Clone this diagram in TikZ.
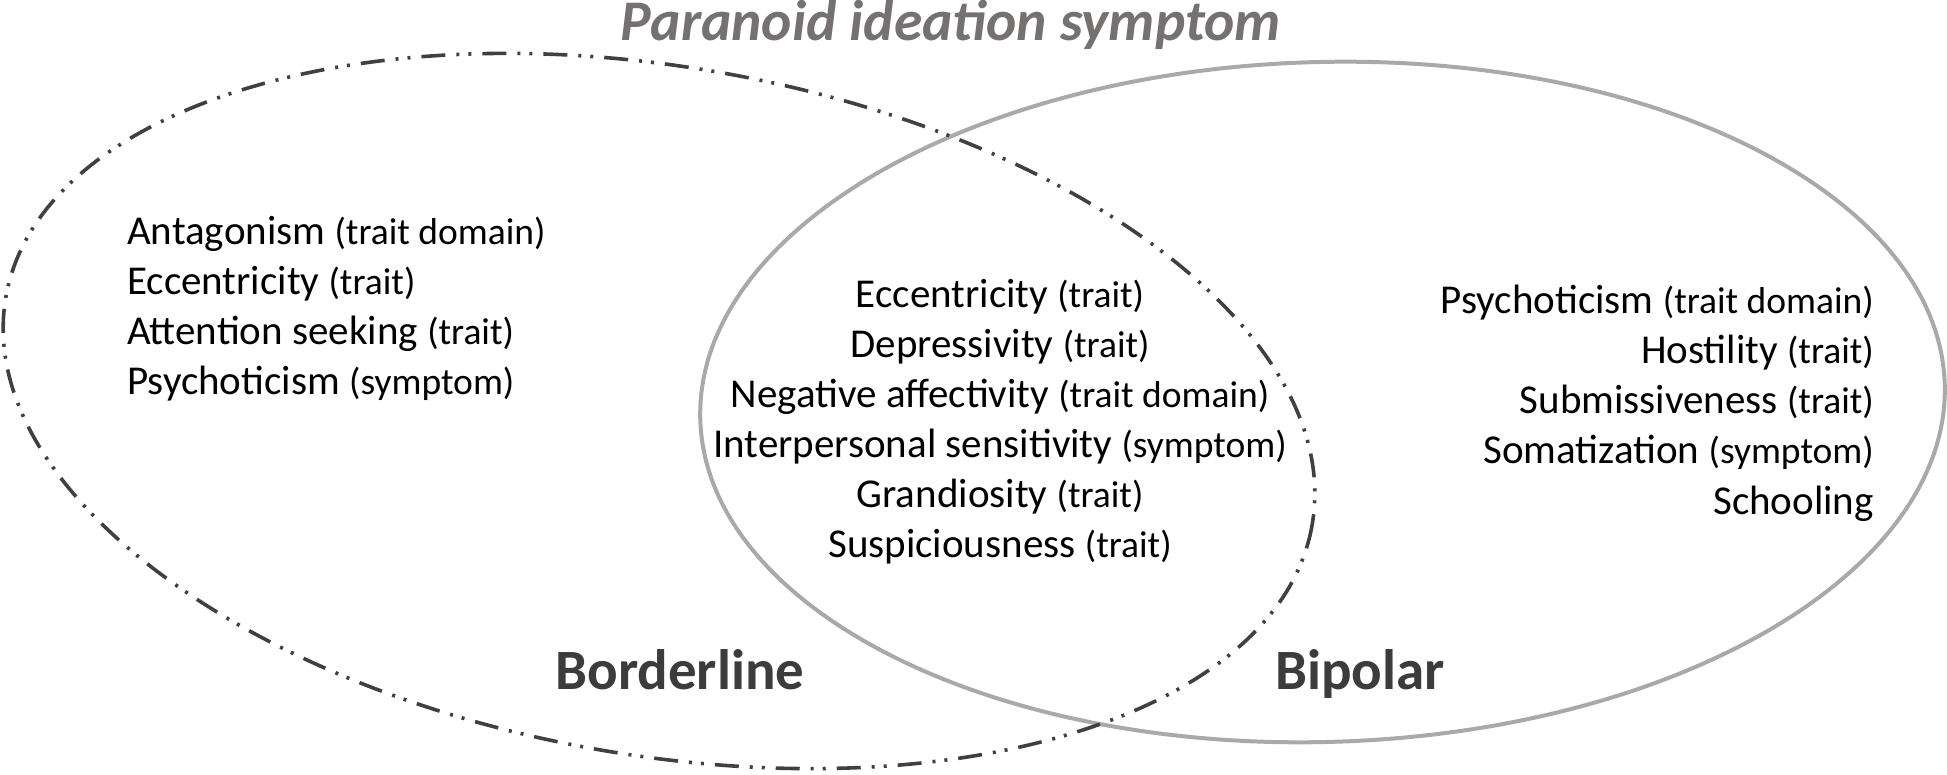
\documentclass[tikz,border=0pt]{standalone}
\usepackage{fontspec}
\setmainfont{Carlito}
\definecolor{titlegray}{RGB}{118,113,113}
\definecolor{labelgray}{RGB}{60,60,60}
\definecolor{bipgray}{RGB}{172,168,168}
\definecolor{bordgray}{RGB}{64,64,64}
\newcommand\pq[1]{{\fontsize{37.5}{44}\selectfont(#1)}}
\tikzset{
  item/.style={inner sep=0pt, font=\fontsize{41}{49}\selectfont},
  grouplabel/.style={inner sep=0pt, font=\fontsize{57}{65}\selectfont\bfseries, text=labelgray},
  titlelabel/.style={inner sep=0pt, font=\fontsize{57.5}{65}\selectfont\bfseries\itshape, text=titlegray},
  bordline/.style={draw=bordgray, line width=3.6pt, dash pattern=on 24pt off 11pt on 3pt off 9pt on 3pt off 11pt},
  bipline/.style={draw=bipgray, line width=4pt}
}
\begin{document}
\begin{tikzpicture}[x=1pt,y=-1pt]
\useasboundingbox (0,0) rectangle (1947,775);
% ellipses
\draw[bipline, rotate around={1.6:(1322.5,402)}] (1322.5,402) ellipse [x radius=622.5, y radius=340];
\draw[bordline, rotate around={-9.9:(659,411)}] (659,411) ellipse [x radius=663, y radius=344];
% title
\node[titlelabel, anchor=base] (title) at (951,41) {Paranoid ideation symptom};
% left
\node[item, anchor=base west] (l1) at (127,245) {Antagonism \pq{trait domain}};
\node[item, anchor=base west] (l2) at (127,295) {Eccentricity \pq{trait}};
\node[item, anchor=base west] (l3) at (127,345) {Attention seeking \pq{trait}};
\node[item, anchor=base west] (l4) at (127,395) {Psychoticism \pq{symptom}};
% center
\node[item, anchor=base] (c1) at (1000,307.5) {Eccentricity \pq{trait}};
\node[item, anchor=base] (c2) at (1000,357.5) {Depressivity \pq{trait}};
\node[item, anchor=base] (c3) at (1000,407.5) {Negative affectivity \pq{trait domain}};
\node[item, anchor=base] (c4) at (1000,457.5) {Interpersonal sensitivity \pq{symptom}};
\node[item, anchor=base] (c5) at (1000,507.5) {Grandiosity \pq{trait}};
\node[item, anchor=base] (c6) at (1000,557.5) {Suspiciousness \pq{trait}};
% right
\node[item, anchor=base east] (r1) at (1874,314) {Psychoticism \pq{trait domain}};
\node[item, anchor=base east] (r2) at (1874,364) {Hostility \pq{trait}};
\node[item, anchor=base east] (r3) at (1874,414) {Submissiveness \pq{trait}};
\node[item, anchor=base east] (r4) at (1874,464) {Somatization \pq{symptom}};
\node[item, anchor=base east] (r5) at (1874,514) {Schooling};
% group labels
\node[grouplabel, anchor=base] (bord) at (680,689) {Borderline};
\node[grouplabel, anchor=base] (bip) at (1360,689) {Bipolar};
\end{tikzpicture}
\end{document}
